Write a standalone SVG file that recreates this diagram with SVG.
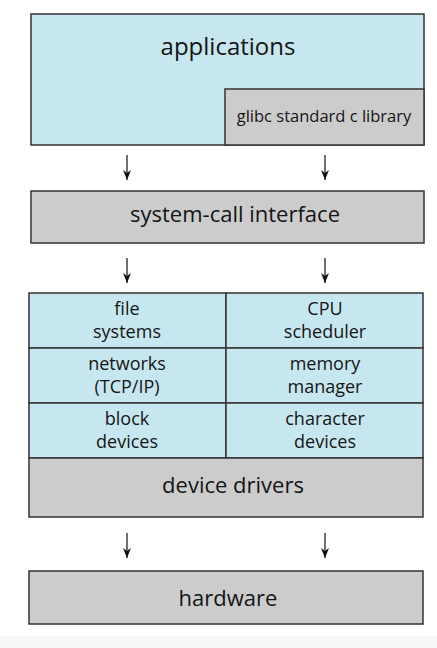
<svg xmlns="http://www.w3.org/2000/svg" width="437" height="648" viewBox="0 0 437 648">
<style>
.blue{fill:#c7e7f0;stroke:#333;stroke-width:1.5}
.gray{fill:#cccccc;stroke:#333;stroke-width:1.5}
.t{font-family:"Open Sans","Noto Sans",sans-serif;fill:#151515;text-anchor:middle}
.c{font-size:18px}
.conn line{stroke:#111;stroke-width:1.2}
</style>
<defs>
<marker id="ah" markerWidth="10" markerHeight="8" refX="10" refY="4" orient="auto" markerUnits="userSpaceOnUse">
<path d="M0,0 L10,4 L0,8 L3,4 Z" fill="#111"/>
</marker>
</defs>
<rect x="0" y="636" width="437" height="12" fill="#f7f7f7"/>
<g id="applications">
<rect class="blue" x="31" y="14" width="393" height="131"/>
<text class="t" x="228" y="55" font-size="24">applications</text>
</g>
<g id="glibc">
<rect class="gray" x="225" y="89" width="199" height="56"/>
<text class="t" x="324" y="122" font-size="16.5">glibc standard c library</text>
</g>
<g id="syscall">
<rect class="gray" x="31" y="191" width="393" height="52"/>
<text class="t" x="235" y="222" font-size="22">system-call interface</text>
</g>
<g id="filesystems">
<rect class="blue" x="29" y="293" width="197" height="55"/>
<text class="t c" x="127" y="315">file</text>
<text class="t c" x="127" y="338">systems</text>
</g>
<g id="cpu">
<rect class="blue" x="226" y="293" width="197" height="55"/>
<text class="t c" x="325" y="315">CPU</text>
<text class="t c" x="325" y="338">scheduler</text>
</g>
<g id="networks">
<rect class="blue" x="29" y="348" width="197" height="55"/>
<text class="t c" x="127" y="370">networks</text>
<text class="t c" x="127" y="393">(TCP/IP)</text>
</g>
<g id="memory">
<rect class="blue" x="226" y="348" width="197" height="55"/>
<text class="t c" x="325" y="370">memory</text>
<text class="t c" x="325" y="393">manager</text>
</g>
<g id="block">
<rect class="blue" x="29" y="403" width="197" height="55"/>
<text class="t c" x="127" y="425">block</text>
<text class="t c" x="127" y="448">devices</text>
</g>
<g id="character">
<rect class="blue" x="226" y="403" width="197" height="55"/>
<text class="t c" x="325" y="425">character</text>
<text class="t c" x="325" y="448">devices</text>
</g>
<g id="drivers">
<rect class="gray" x="29" y="458" width="394" height="59"/>
<text class="t" x="233" y="493" font-size="22">device drivers</text>
</g>
<g id="hardware">
<rect class="gray" x="29" y="571" width="394" height="53"/>
<text class="t" x="228" y="606" font-size="22">hardware</text>
</g>
<g class="conn">
<line x1="127" y1="155" x2="127" y2="180" marker-end="url(#ah)"/>
<line x1="325" y1="155" x2="325" y2="180" marker-end="url(#ah)"/>
<line x1="127" y1="258" x2="127" y2="283" marker-end="url(#ah)"/>
<line x1="325" y1="258" x2="325" y2="283" marker-end="url(#ah)"/>
<line x1="127" y1="533" x2="127" y2="558" marker-end="url(#ah)"/>
<line x1="325" y1="533" x2="325" y2="558" marker-end="url(#ah)"/>
</g>
</svg>
